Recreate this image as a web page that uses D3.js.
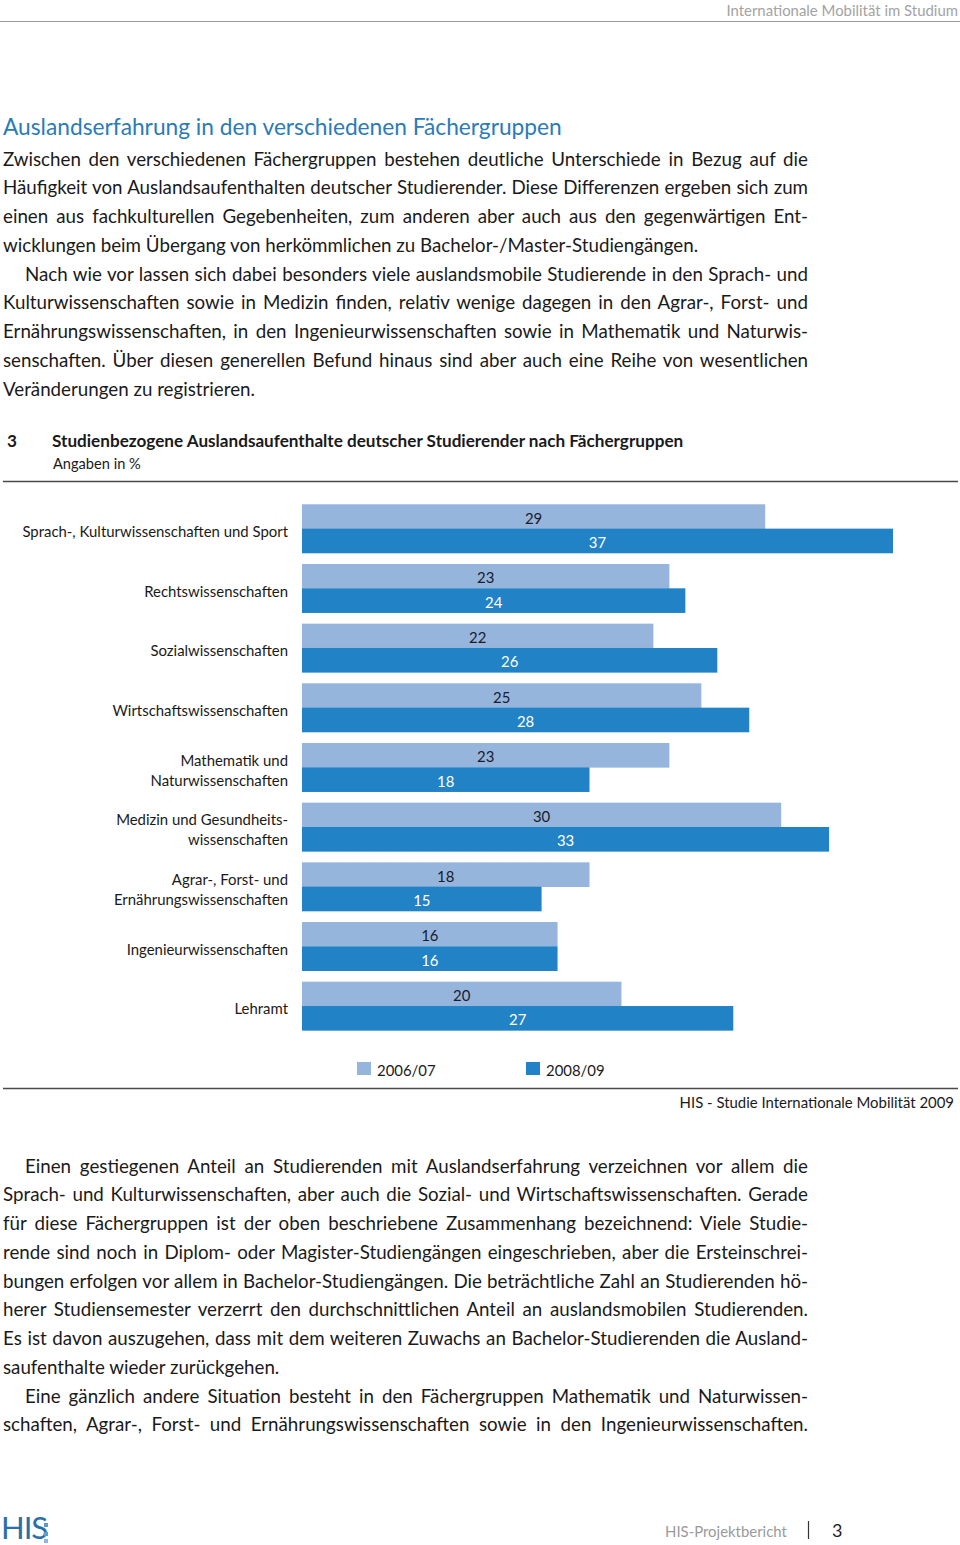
<!DOCTYPE html>
<html><head><meta charset="utf-8">
<script src="https://cdn.jsdelivr.net/npm/d3@7"></script>
<style>html,body{margin:0;padding:0;background:#fff}svg{display:block}</style>
</head><body>
<script>
// ---------- DATA ----------
const categories = [
  ["Sprach-, Kulturwissenschaften und Sport"],
  ["Rechtswissenschaften"],
  ["Sozialwissenschaften"],
  ["Wirtschaftswissenschaften"],
  ["Mathematik und", "Naturwissenschaften"],
  ["Medizin und Gesundheits-", "wissenschaften"],
  ["Agrar-, Forst- und", "Ernährungswissenschaften"],
  ["Ingenieurwissenschaften"],
  ["Lehramt"]
];
const values2006 = [29, 23, 22, 25, 23, 30, 18, 16, 20];
const values2008 = [37, 24, 26, 28, 18, 33, 15, 16, 27];
const seriesNames = ["2006/07", "2008/09"];
const seriesColors = ["#95b5dd", "#2183c6"];
const labelColors = ["#1b1b2a", "#ffffff"];

const chartNumber = "3";
const chartTitle = "Studienbezogene Auslandsaufenthalte deutscher Studierender nach Fächergruppen";
const chartSubtitle = "Angaben in %";
const sourceText = "HIS - Studie Internationale Mobilität 2009";

const para1 = [
  {t:"Zwischen den verschiedenen Fächergruppen bestehen deutliche Unterschiede in Bezug auf die", ind:false, j:true},
  {t:"Häufigkeit von Auslandsaufenthalten deutscher Studierender. Diese Differenzen ergeben sich zum", ind:false, j:true},
  {t:"einen aus fachkulturellen Gegebenheiten, zum anderen aber auch aus den gegenwärtigen Ent-", ind:false, j:true},
  {t:"wicklungen beim Übergang von herkömmlichen zu Bachelor-/Master-Studiengängen.", ind:false, j:false},
  {t:"Nach wie vor lassen sich dabei besonders viele auslandsmobile Studierende in den Sprach- und", ind:true, j:true},
  {t:"Kulturwissenschaften sowie in Medizin finden, relativ wenige dagegen in den Agrar-, Forst- und", ind:false, j:true},
  {t:"Ernährungswissenschaften, in den Ingenieurwissenschaften sowie in Mathematik und Naturwis-", ind:false, j:true},
  {t:"senschaften. Über diesen generellen Befund hinaus sind aber auch eine Reihe von wesentlichen", ind:false, j:true},
  {t:"Veränderungen zu registrieren.", ind:false, j:false}
];
const para2 = [
  {t:"Einen gestiegenen Anteil an Studierenden mit Auslandserfahrung verzeichnen vor allem die", ind:true, j:true},
  {t:"Sprach- und Kulturwissenschaften, aber auch die Sozial- und Wirtschaftswissenschaften. Gerade", ind:false, j:true},
  {t:"für diese Fächergruppen ist der oben beschriebene Zusammenhang bezeichnend: Viele Studie-", ind:false, j:true},
  {t:"rende sind noch in Diplom- oder Magister-Studiengängen eingeschrieben, aber die Ersteinschrei-", ind:false, j:true},
  {t:"bungen erfolgen vor allem in Bachelor-Studiengängen. Die beträchtliche Zahl an Studierenden hö-", ind:false, j:true},
  {t:"herer Studiensemester verzerrt den durchschnittlichen Anteil an auslandsmobilen Studierenden.", ind:false, j:true},
  {t:"Es ist davon auszugehen, dass mit dem weiteren Zuwachs an Bachelor-Studierenden die Ausland-", ind:false, j:true},
  {t:"saufenthalte wieder zurückgehen.", ind:false, j:false},
  {t:"Eine gänzlich andere Situation besteht in den Fächergruppen Mathematik und Naturwissen-", ind:true, j:true},
  {t:"schaften, Agrar-, Forst- und Ernährungswissenschaften sowie in den Ingenieurwissenschaften.", ind:false, j:true}
];

// ---------- LAYOUT ----------
const W = 960, H = 1545;
const FONT = "Lato, 'Open Sans', sans-serif";
const svg = d3.select("body").append("svg").attr("width", W).attr("height", H)
  .style("font-family", FONT);

function calib(str, size, weight, target) {
  const t = svg.append("text").attr("font-size", size).attr("font-weight", weight).text(str);
  const w = t.node().getComputedTextLength();
  t.remove();
  return size * target / w;
}

const bodySize = calib("wicklungen beim Übergang von herkömmlichen zu Bachelor-/Master-Studiengängen.", 17.7, 400, 695);
const labelSize = calib("Sprach-, Kulturwissenschaften und Sport", 15, 400, 266);
const titleBoldSize = calib(chartTitle, 16, 700, 632);

// header
svg.append("text").attr("x", 958).attr("y", 16).attr("text-anchor", "end")
  .attr("font-size", labelSize).attr("fill", "#a3a3a3").text("Internationale Mobilität im Studium");
svg.append("line").attr("x1", 0).attr("x2", 960).attr("y1", 21.5).attr("y2", 21.5)
  .attr("stroke", "#9a9a9a").attr("stroke-width", 1);

// section title
const sectTitle = svg.append("text").attr("x", 3).attr("y", 135)
  .attr("font-size", bodySize * 1.27).attr("fill", "#2a7bb9")
  .text("Auslandserfahrung in den verschiedenen Fächergruppen");
{
  const w = sectTitle.node().getComputedTextLength();
  sectTitle.attr("font-size", bodySize * 1.27 * 559 / w);
}

function paragraph(lines, y0, step) {
  lines.forEach((ln, i) => {
    const x0 = ln.ind ? 25 : 3;
    const t = svg.append("text").attr("x", x0).attr("y", y0 + i * step)
      .attr("font-size", bodySize).attr("fill", "#1a1a1a").text(ln.t);
    if (ln.j) {
      const w = t.node().getComputedTextLength();
      const spaces = (ln.t.match(/ /g) || []).length;
      const ws = (808 - x0 - w) / spaces;
      t.attr("word-spacing", ws);
    }
  });
}
paragraph(para1, 165.5, 28.75);
paragraph(para2, 1172.5, 28.75);

// chart title block
svg.append("text").attr("x", 7).attr("y", 447).attr("font-size", titleBoldSize)
  .attr("font-weight", 700).attr("fill", "#1a1a1a").text(chartNumber);
svg.append("text").attr("x", 52).attr("y", 447).attr("font-size", titleBoldSize)
  .attr("font-weight", 700).attr("fill", "#1a1a1a").text(chartTitle);
svg.append("text").attr("x", 53).attr("y", 469).attr("font-size", labelSize * 0.98)
  .attr("fill", "#1a1a1a").text(chartSubtitle);
svg.append("line").attr("x1", 3).attr("x2", 958).attr("y1", 481.5).attr("y2", 481.5)
  .attr("stroke", "#4a4a4a").attr("stroke-width", 1.5);

// ---------- CHART ----------
const x = d3.scaleLinear().domain([0, 37]).range([302, 893]);
const y = d3.scaleBand().domain(d3.range(categories.length))
  .range([504.3, 504.3 + 8 * 59.67 + 48.7]).paddingInner(11 / 59.67).paddingOuter(0);
const ySub = d3.scaleBand().domain([0, 1]).range([0, y.bandwidth()]);

const rows = categories.map((c, i) => ({c, i, vals: [values2006[i], values2008[i]]}));

const g = svg.append("g");
const grp = g.selectAll("g.grp").data(rows).join("g").attr("class", "grp")
  .attr("transform", d => `translate(0,${y(d.i)})`);

grp.selectAll("rect").data(d => d.vals.map((v, s) => ({v, s}))).join("rect")
  .attr("x", x(0)).attr("y", d => ySub(d.s))
  .attr("width", d => x(d.v) - x(0)).attr("height", ySub.bandwidth() + 0.3)
  .attr("fill", d => seriesColors[d.s]);

grp.selectAll("text.val").data(d => d.vals.map((v, s) => ({v, s}))).join("text")
  .attr("class", "val")
  .attr("x", d => x(d.v / 2)).attr("y", d => ySub(d.s) + ySub.bandwidth() / 2 + 3.5)
  .attr("text-anchor", "middle").attr("dominant-baseline", "middle")
  .attr("font-size", labelSize).attr("fill", d => labelColors[d.s])
  .text(d => d.v);

// category labels
grp.each(function(d) {
  const n = d.c.length;
  const cy = y.bandwidth() / 2 + 4.5;
  d.c.forEach((line, k) => {
    d3.select(this).append("text")
      .attr("x", 288).attr("y", cy + (k - (n - 1) / 2) * 20)
      .attr("text-anchor", "end").attr("dominant-baseline", "middle")
      .attr("font-size", labelSize).attr("fill", "#1a1a1a").text(line);
  });
});

// legend
const legendX = [357, 526];
const leg = svg.append("g").selectAll("g").data(seriesNames).join("g")
  .attr("transform", (d, i) => `translate(${legendX[i]},1062)`);
leg.append("rect").attr("width", 14).attr("height", 13).attr("fill", (d, i) => seriesColors[i]);
leg.append("text").attr("x", 20).attr("y", 10).attr("dominant-baseline", "middle")
  .attr("font-size", labelSize).attr("fill", "#1a1a1a").text(d => d);

svg.append("line").attr("x1", 3).attr("x2", 958).attr("y1", 1088.5).attr("y2", 1088.5)
  .attr("stroke", "#4a4a4a").attr("stroke-width", 1.5);
svg.append("text").attr("x", 954).attr("y", 1108).attr("text-anchor", "end")
  .attr("font-size", labelSize).attr("fill", "#1a1a1a").text(sourceText);

// footer
svg.append("text").attr("x", 1).attr("y", 1539).attr("font-size", 31)
  .attr("fill", "#2b6fa9").attr("letter-spacing", -1).text("HIS");
svg.append("rect").attr("x", 44).attr("y", 1523).attr("width", 4).attr("height", 4).attr("fill", "#5b9bd0");
svg.append("rect").attr("x", 44).attr("y", 1532).attr("width", 4).attr("height", 4).attr("fill", "#5b9bd0");
svg.append("rect").attr("x", 44).attr("y", 1539).attr("width", 4).attr("height", 4).attr("fill", "#8ab8e0");
svg.append("text").attr("x", 665).attr("y", 1537).attr("font-size", labelSize)
  .attr("fill", "#9a9a9a").text("HIS-Projektbericht");
svg.append("line").attr("x1", 808.5).attr("x2", 808.5).attr("y1", 1521).attr("y2", 1539)
  .attr("stroke", "#333").attr("stroke-width", 1.2);
svg.append("text").attr("x", 832).attr("y", 1537).attr("font-size", 18)
  .attr("fill", "#222").text("3");
</script>
</body></html>
